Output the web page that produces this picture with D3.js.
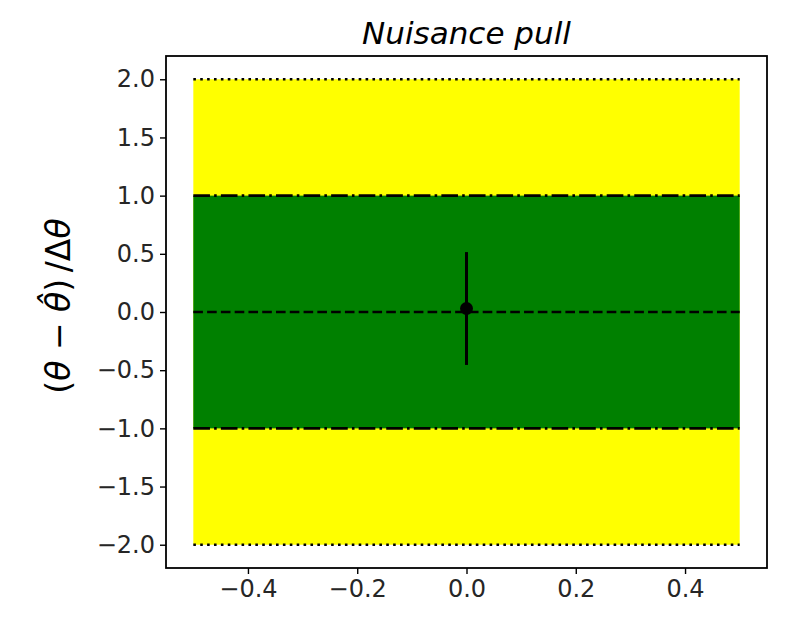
<!DOCTYPE html>
<html>
<head>
<meta charset="utf-8">
<script src="https://cdn.jsdelivr.net/npm/d3@7"></script>
<style>
  body { margin: 0; background: #fff; }
  svg { font-family: "DejaVu Sans", sans-serif; }
</style>
</head>
<body>
<div id="chart"></div>
<script>
// data
var xTicks = [-0.4, -0.2, 0.0, 0.2, 0.4];
var yTicks = [-2.0, -1.5, -1.0, -0.5, 0.0, 0.5, 1.0, 1.5, 2.0];
var bandX = [-0.5, 0.5];
var bandLower = [-2, -1];
var bandUpper = [2, 1];
var refLevels = [2, -2, 1, -1, 0];
var refKinds = ['dotted', 'dotted', 'dashdot', 'dashdot', 'dashed'];
var pullX = [0.0];
var pullY = [0.03];
var pullErr = [0.485];

var bandColors = ['#ffff00', '#008000'];
var lw = 2.6;
var dashes = {
    'dotted': [1 * lw, 1.65 * lw],
    'dashdot': [6.4 * lw, 1.6 * lw, 1 * lw, 1.6 * lw],
    'dashed': [3.7 * lw, 1.6 * lw]
};

var width = 785, height = 635;
var margin = {left: 166, right: 18, top: 56, bottom: 67};

var svg = d3.select('#chart').append('svg')
    .attr('width', width)
    .attr('height', height);

var x = d3.scaleLinear()
    .domain([-0.55, 0.55])
    .range([margin.left, width - margin.right]);
var y = d3.scaleLinear()
    .domain([-2.2, 2.2])
    .range([height - margin.bottom, margin.top]);

var fmt = function(d) { return d3.format('.1f')(d).replace('-', '\u2212'); };

// bands
svg.append('g').selectAll('rect')
    .data(bandLower)
    .enter()
    .append('rect')
    .attr('x', x(bandX[0]))
    .attr('width', x(bandX[1]) - x(bandX[0]))
    .attr('y', function(d, i) { return y(bandUpper[i]); })
    .attr('height', function(d, i) { return y(d) - y(bandUpper[i]); })
    .style('fill', function(d, i) { return bandColors[i]; });

// reference lines
svg.append('g').selectAll('line')
    .data(refLevels)
    .enter()
    .append('line')
    .attr('x1', x(bandX[0]))
    .attr('x2', x(bandX[1]))
    .attr('y1', function(d) { return y(d); })
    .attr('y2', function(d) { return y(d); })
    .style('stroke', '#000')
    .style('stroke-width', lw)
    .style('stroke-dasharray', function(d, i) { return dashes[refKinds[i]].join(','); });

// pull point with error bar
var pts = svg.append('g');
pts.selectAll('line')
    .data(pullY)
    .enter()
    .append('line')
    .attr('x1', function(d, i) { return x(pullX[i]); })
    .attr('x2', function(d, i) { return x(pullX[i]); })
    .attr('y1', function(d, i) { return y(d + pullErr[i]); })
    .attr('y2', function(d, i) { return y(d - pullErr[i]); })
    .style('stroke', '#000')
    .style('stroke-width', 3);
pts.selectAll('circle')
    .data(pullY)
    .enter()
    .append('circle')
    .attr('cx', function(d, i) { return x(pullX[i]); })
    .attr('cy', function(d) { return y(d); })
    .attr('r', 6.5)
    .style('fill', '#000');

// axes
var xAxis = d3.axisBottom(x).tickValues(xTicks).tickFormat(fmt).tickSize(6).tickPadding(6);
var yAxis = d3.axisLeft(y).tickValues(yTicks).tickFormat(fmt).tickSize(6).tickPadding(5);

var gx = svg.append('g')
    .attr('transform', 'translate(0,' + (height - margin.bottom) + ')')
    .call(xAxis);
var gy = svg.append('g')
    .attr('transform', 'translate(' + margin.left + ',0)')
    .call(yAxis);

[gx, gy].forEach(function(g) {
    g.select('.domain').remove();
    g.selectAll('.tick line').style('stroke', '#000').style('stroke-width', 1.4);
    g.selectAll('.tick text')
        .style('font-family', '"DejaVu Sans", sans-serif')
        .style('font-size', '24px')
        .style('fill', '#262626');
});

// frame
svg.append('rect')
    .attr('x', margin.left)
    .attr('y', margin.top)
    .attr('width', width - margin.left - margin.right)
    .attr('height', height - margin.top - margin.bottom)
    .style('fill', 'none')
    .style('stroke', '#000')
    .style('stroke-width', 1.8);

// title
svg.append('text')
    .attr('x', (x.range()[0] + x.range()[1]) / 2)
    .attr('y', 44)
    .attr('text-anchor', 'middle')
    .style('font-size', '31px')
    .style('font-style', 'italic')
    .text('Nuisance pull');

// y label
var yl = svg.append('text')
    .attr('transform', 'translate(70,' + ((y.range()[0] + y.range()[1]) / 2 - 6) + ') rotate(-90)')
    .attr('text-anchor', 'middle')
    .style('font-size', '33px');
yl.append('tspan').text('(');
yl.append('tspan').style('font-style', 'italic').text('\u03b8');
yl.append('tspan').text(' \u2212 ');
yl.append('tspan').style('font-style', 'italic').text('\u03b8\u0302');
yl.append('tspan').text(')\u2009/\u0394');
yl.append('tspan').style('font-style', 'italic').text('\u03b8');
</script>
</body>
</html>
